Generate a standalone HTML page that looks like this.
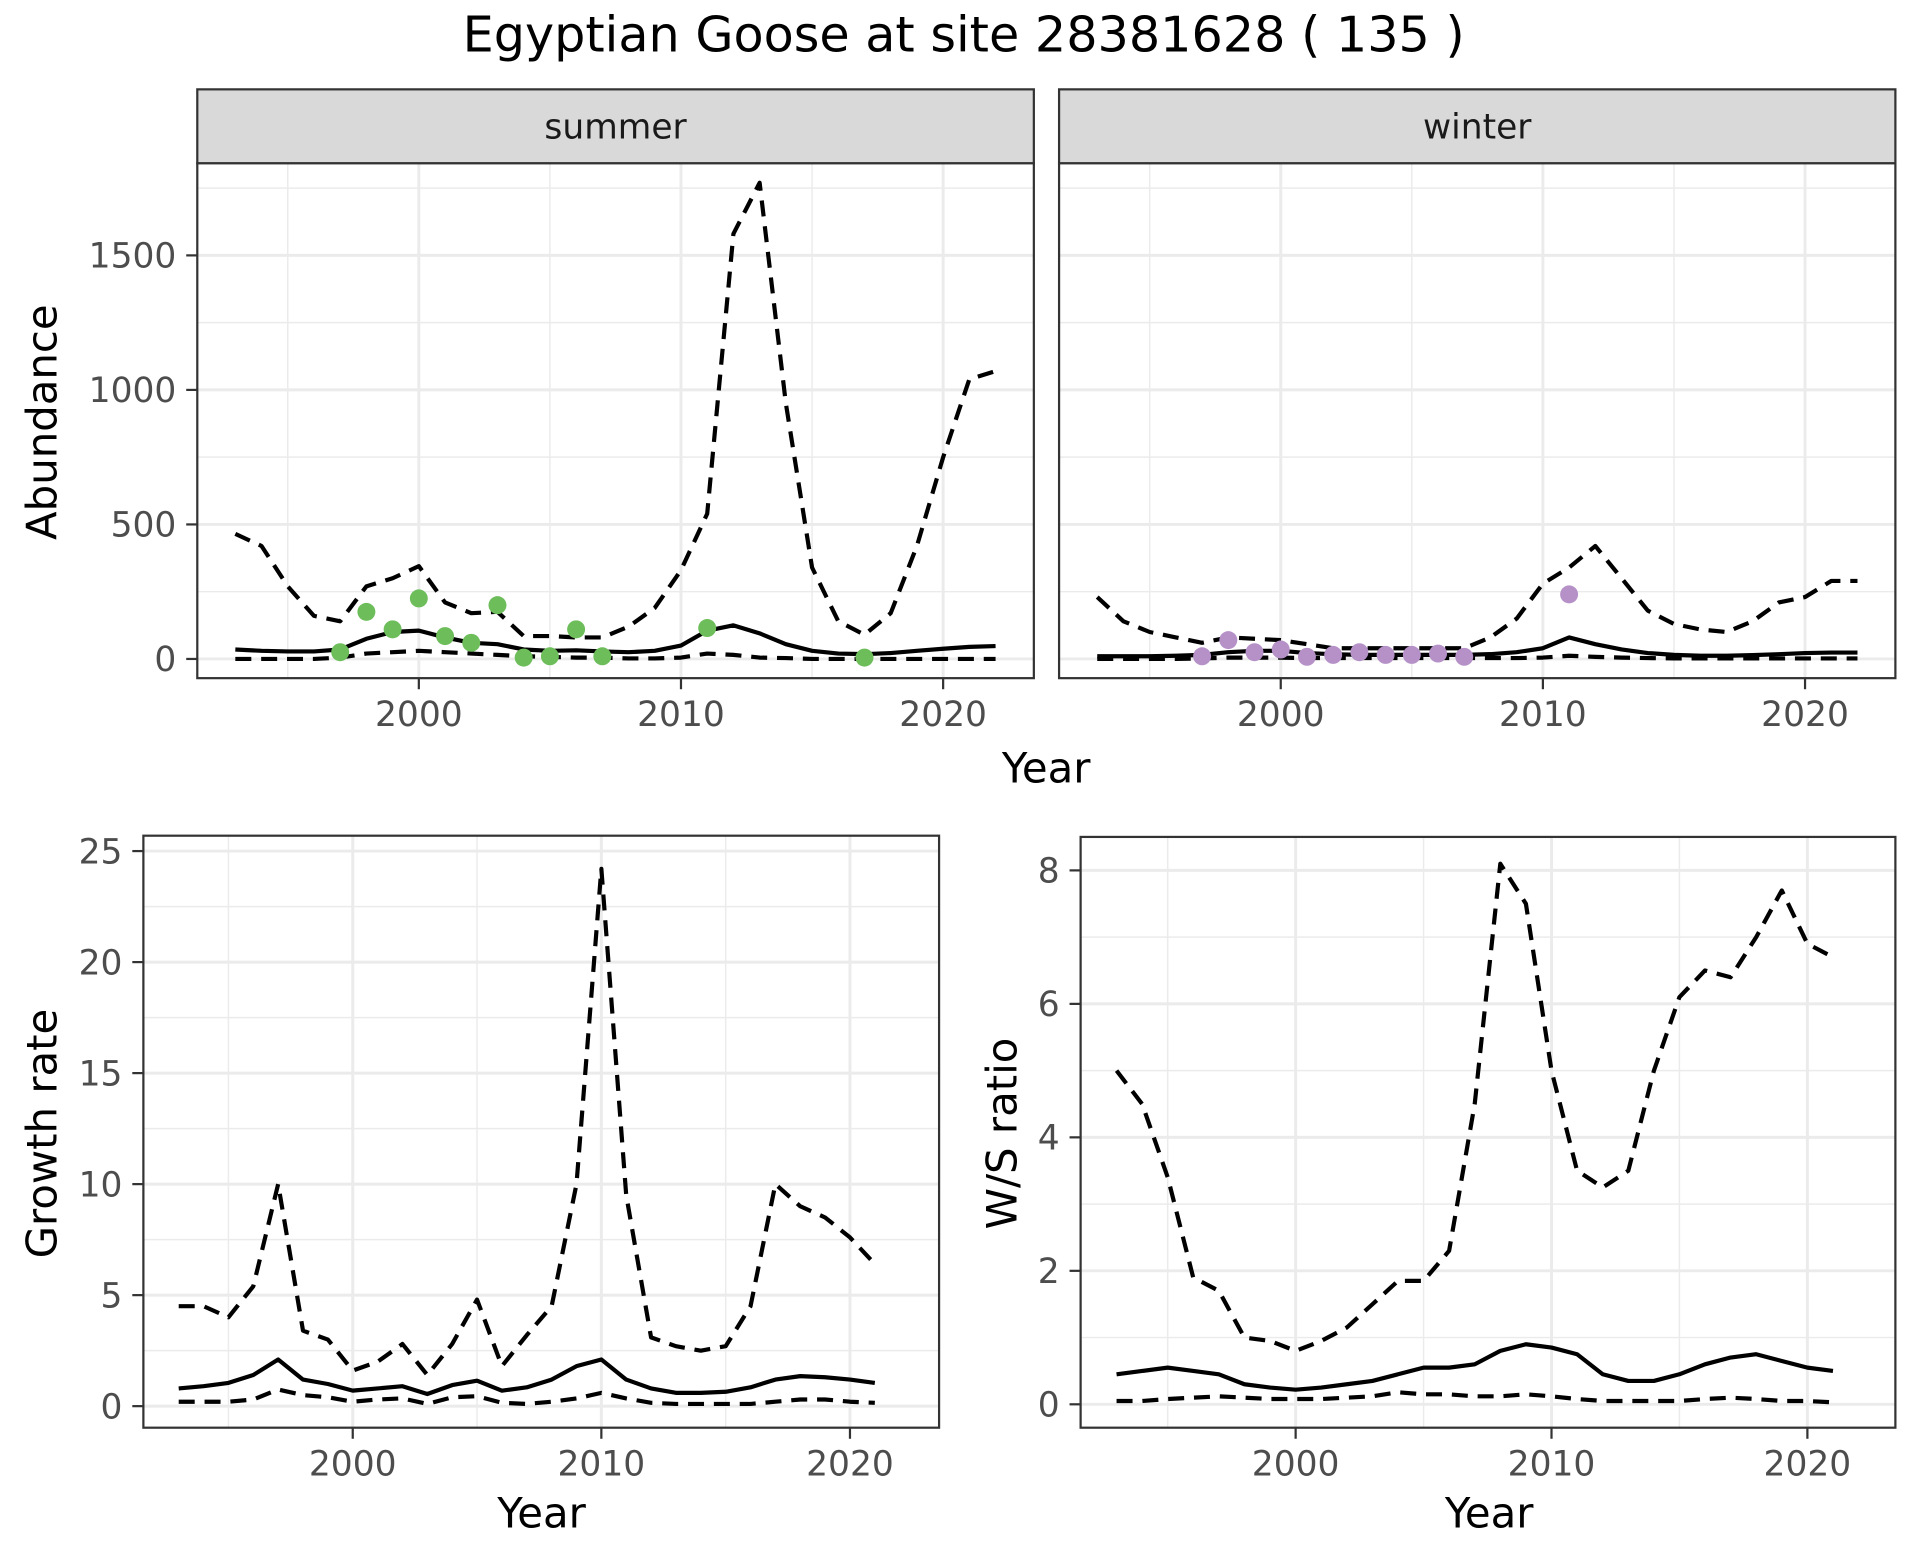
<!DOCTYPE html>
<html><head><meta charset="utf-8"><style>
html,body{margin:0;padding:0;background:#fff;}
svg{display:block;font-family:"DejaVu Sans","Liberation Sans",sans-serif;}
</style></head><body>
<svg id="chart" width="1920" height="1560" viewBox="0 0 1560 1267.5" xmlns="http://www.w3.org/2000/svg">
<rect width="1560" height="1267.5" fill="#fff"/>
<text x="783" y="42" font-size="40" text-anchor="middle" fill="#000">Egyptian Goose at site 28381628 ( 135 )</text>
</svg>
<script>
const yearsTop=[1993,1994,1995,1996,1997,1998,1999,2000,2001,2002,2003,2004,2005,2006,2007,2008,2009,2010,2011,2012,2013,2014,2015,2016,2017,2018,2019,2020,2021,2022];
const sumUpper=[465,420,270,160,140,270,300,345,210,170,175,85,85,80,80,120,190,330,540,1580,1770,950,340,140,90,170,420,750,1040,1070];
const sumMid=[35,30,28,28,35,75,100,105,80,60,55,35,30,32,28,25,30,50,105,125,95,55,30,20,18,22,30,38,45,48];
const sumLow=[0,0,0,0,5,20,25,30,25,20,15,10,8,5,5,2,2,5,20,15,5,3,0,0,0,0,0,0,0,0];
const sumPtYears=[1997,1998,1999,2000,2001,2002,2003,2004,2005,2006,2007,2011,2017];
const sumPtVals=[25,175,110,225,85,60,200,5,10,110,10,115,5];
const winUpper=[230,140,100,80,60,80,75,70,55,40,40,40,40,40,40,80,150,280,340,420,300,180,130,110,100,140,210,230,290,290];
const winMid=[10,10,10,12,15,25,30,30,22,18,15,15,15,15,15,18,25,40,80,55,35,22,15,12,12,14,18,22,24,24];
const winLow=[0,0,0,0,2,5,5,5,3,3,3,3,3,3,3,3,3,5,12,8,5,3,2,2,2,2,2,2,2,2];
const winPtYears=[1997,1998,1999,2000,2001,2002,2003,2004,2005,2006,2007,2011];
const winPtVals=[10,70,25,35,8,15,25,15,15,20,8,240];
const yearsBot=[1993,1994,1995,1996,1997,1998,1999,2000,2001,2002,2003,2004,2005,2006,2007,2008,2009,2010,2011,2012,2013,2014,2015,2016,2017,2018,2019,2020,2021];
const grUpper=[4.5,4.5,4.0,5.4,10.0,3.4,3.0,1.6,2.0,2.8,1.4,2.8,4.8,1.8,3.2,4.5,10,24.2,9.5,3.1,2.7,2.5,2.7,4.5,10.0,9.0,8.5,7.6,6.4];
const grMid=[0.8,0.9,1.05,1.4,2.1,1.2,1.0,0.7,0.8,0.9,0.55,0.95,1.15,0.7,0.85,1.2,1.8,2.1,1.2,0.8,0.6,0.6,0.65,0.85,1.2,1.35,1.3,1.2,1.05];
const grLow=[0.2,0.2,0.2,0.3,0.75,0.5,0.4,0.2,0.3,0.35,0.1,0.4,0.45,0.15,0.1,0.2,0.35,0.6,0.35,0.15,0.1,0.1,0.1,0.1,0.2,0.3,0.3,0.2,0.15];
const wsUpper=[5.0,4.5,3.4,1.9,1.7,1.0,0.95,0.8,0.95,1.15,1.5,1.85,1.85,2.3,4.5,8.1,7.5,5.0,3.5,3.25,3.5,5.0,6.1,6.5,6.4,7.0,7.7,6.9,6.7];
const wsMid=[0.45,0.5,0.55,0.5,0.45,0.3,0.25,0.22,0.25,0.3,0.35,0.45,0.55,0.55,0.6,0.8,0.9,0.85,0.75,0.45,0.35,0.35,0.45,0.6,0.7,0.75,0.65,0.55,0.5];
const wsLow=[0.05,0.05,0.08,0.1,0.12,0.1,0.08,0.08,0.08,0.1,0.12,0.18,0.15,0.15,0.12,0.12,0.15,0.12,0.08,0.05,0.05,0.05,0.05,0.08,0.1,0.08,0.05,0.05,0.03];
const abTicks=[0,500,1000,1500];
const abMinor=[250,750,1250,1750];
const grTicks=[0,5,10,15,20,25];
const grMinor=[2.5,7.5,12.5,17.5,22.5];
const wsTicks=[0,2,4,6,8];
const wsMinor=[1,3,5,7];
const xTicks=[2000,2010,2020];
const xMinor=[1995,2005,2015];

const svg=document.getElementById('chart');
const NS='http://www.w3.org/2000/svg';
function mk(tag,attrs,parent){const e=document.createElementNS(NS,tag);for(const k in attrs)e.setAttribute(k,attrs[k]);(parent||svg).appendChild(e);return e;}
function txt(s,attrs,name){const e=mk('text',attrs);e.textContent=s;


return e;}

function panel(p){
  const g=mk('g',{});
  
  
  const sx=v=>p.x0+(v-p.xr0)*(p.x1-p.x0)/(p.xr1-p.xr0);
  const sy=v=>p.y0+(v-p.yr0)*(p.y1-p.y0)/(p.yr1-p.yr0);
  p.yMinor.forEach(v=>{const y=sy(v);if(y>p.top&&y<p.bottom){const l=mk('line',{x1:p.left,x2:p.right,y1:y,y2:y,stroke:'#ebebeb','stroke-width':1.2},g);}});
  xMinor.forEach(v=>{const x=sx(v);const l=mk('line',{x1:x,x2:x,y1:p.top,y2:p.bottom,stroke:'#ebebeb','stroke-width':1.2},g);});
  p.yTicks.forEach(v=>{const y=sy(v);const l=mk('line',{x1:p.left,x2:p.right,y1:y,y2:y,stroke:'#ebebeb','stroke-width':2.4},g);});
  xTicks.forEach(v=>{const x=sx(v);const l=mk('line',{x1:x,x2:x,y1:p.top,y2:p.bottom,stroke:'#ebebeb','stroke-width':2.4},g);});
  function line(ys,vals,dash,name){
    const d=ys.map((y,i)=>(i?'L':'M')+sx(y).toFixed(1)+','+sy(vals[i]).toFixed(1)).join(' ');
    const l=mk('path',{d:d,fill:'none',stroke:'#000','stroke-width':3.4,'stroke-dasharray':dash?'13 8':'none','stroke-linejoin':'round'},g);
    
    
  }
  line(p.years,p.upper,true,'upper-bound-line');
  line(p.years,p.low,true,'lower-bound-line');
  line(p.years,p.mid,false,'estimate-line');
  if(p.ptY){p.ptY.forEach((y,i)=>{const c=mk('circle',{cx:sx(y),cy:sy(p.ptV[i]),r:7.3,fill:p.ptC},g);
    
    });}
  const b=mk('rect',{x:p.left,y:p.top,width:p.right-p.left,height:p.bottom-p.top,fill:'none',stroke:'#333','stroke-width':1.8},g);
  
  
  if(p.showY){p.yTicks.forEach(v=>{const y=sy(v);mk('line',{x1:p.left-9,x2:p.left,y1:y,y2:y,stroke:'#333','stroke-width':1.8},g);
    txt(String(v),{x:p.left-17,y:y+10,'font-size':28,'text-anchor':'end',fill:'#4d4d4d'},'y-tick-label');});}
  xTicks.forEach(v=>{const x=sx(v);mk('line',{x1:x,x2:x,y1:p.bottom,y2:p.bottom+9,stroke:'#333','stroke-width':1.8},g);
    txt(String(v),{x:x,y:p.bottom+39,'font-size':28,'text-anchor':'middle',fill:'#4d4d4d'},'x-tick-label');});
  if(p.strip){const s=mk('rect',{x:p.left,y:72.6,width:p.right-p.left,height:60,fill:'#d9d9d9',stroke:'#333','stroke-width':1.8},g);
    
    
    txt(p.strip,{x:(p.left+p.right)/2,y:112.4,'font-size':28,'text-anchor':'middle',fill:'#1a1a1a'},'facet-strip-label');}
}
panel({name:'summer-panel',left:160.3,right:840,top:132.6,bottom:551,x0:340.3,x1:553.3,xr0:2000,xr1:2010,y0:535.4,y1:426.1,yr0:0,yr1:500,
  yTicks:abTicks,yMinor:abMinor,showY:true,years:yearsTop,upper:sumUpper,mid:sumMid,low:sumLow,ptY:sumPtYears,ptV:sumPtVals,ptC:'#6dbd5b',strip:'summer'});
panel({name:'winter-panel',left:860.5,right:1540,top:132.6,bottom:551,x0:1040.6,x1:1253.6,xr0:2000,xr1:2010,y0:535.4,y1:426.1,yr0:0,yr1:500,
  yTicks:abTicks,yMinor:abMinor,showY:false,years:yearsTop,upper:winUpper,mid:winMid,low:winLow,ptY:winPtYears,ptV:winPtVals,ptC:'#b591c8',strip:'winter'});
panel({name:'growth-rate-panel',left:116.5,right:763,top:679,bottom:1160,x0:286.6,x1:488.6,xr0:2000,xr1:2010,y0:1142.5,y1:691.5,yr0:0,yr1:25,
  yTicks:grTicks,yMinor:grMinor,showY:true,years:yearsBot,upper:grUpper,mid:grMid,low:grLow});
panel({name:'ws-ratio-panel',left:878,right:1540,top:680,bottom:1160,x0:1052.7,x1:1260.6,xr0:2000,xr1:2010,y0:1141,y1:707.2,yr0:0,yr1:8,
  yTicks:wsTicks,yMinor:wsMinor,showY:true,years:yearsBot,upper:wsUpper,mid:wsMid,low:wsLow});
txt('Abundance',{x:0,y:0,'font-size':34,'text-anchor':'middle',fill:'#000',transform:'translate(46,343) rotate(-90)'},'y-axis-title-abundance');
txt('Year',{x:850,y:635.6,'font-size':34,'text-anchor':'middle',fill:'#000'},'x-axis-title-top');
txt('Growth rate',{x:0,y:0,'font-size':34,'text-anchor':'middle',fill:'#000',transform:'translate(46,921) rotate(-90)'},'y-axis-title-growth-rate');
txt('Year',{x:440,y:1241,'font-size':34,'text-anchor':'middle',fill:'#000'},'x-axis-title-growth');
txt('W/S ratio',{x:0,y:0,'font-size':34,'text-anchor':'middle',fill:'#000',transform:'translate(826,921) rotate(-90)'},'y-axis-title-ws-ratio');
txt('Year',{x:1210,y:1241,'font-size':34,'text-anchor':'middle',fill:'#000'},'x-axis-title-ws');
</script>
</body></html>
